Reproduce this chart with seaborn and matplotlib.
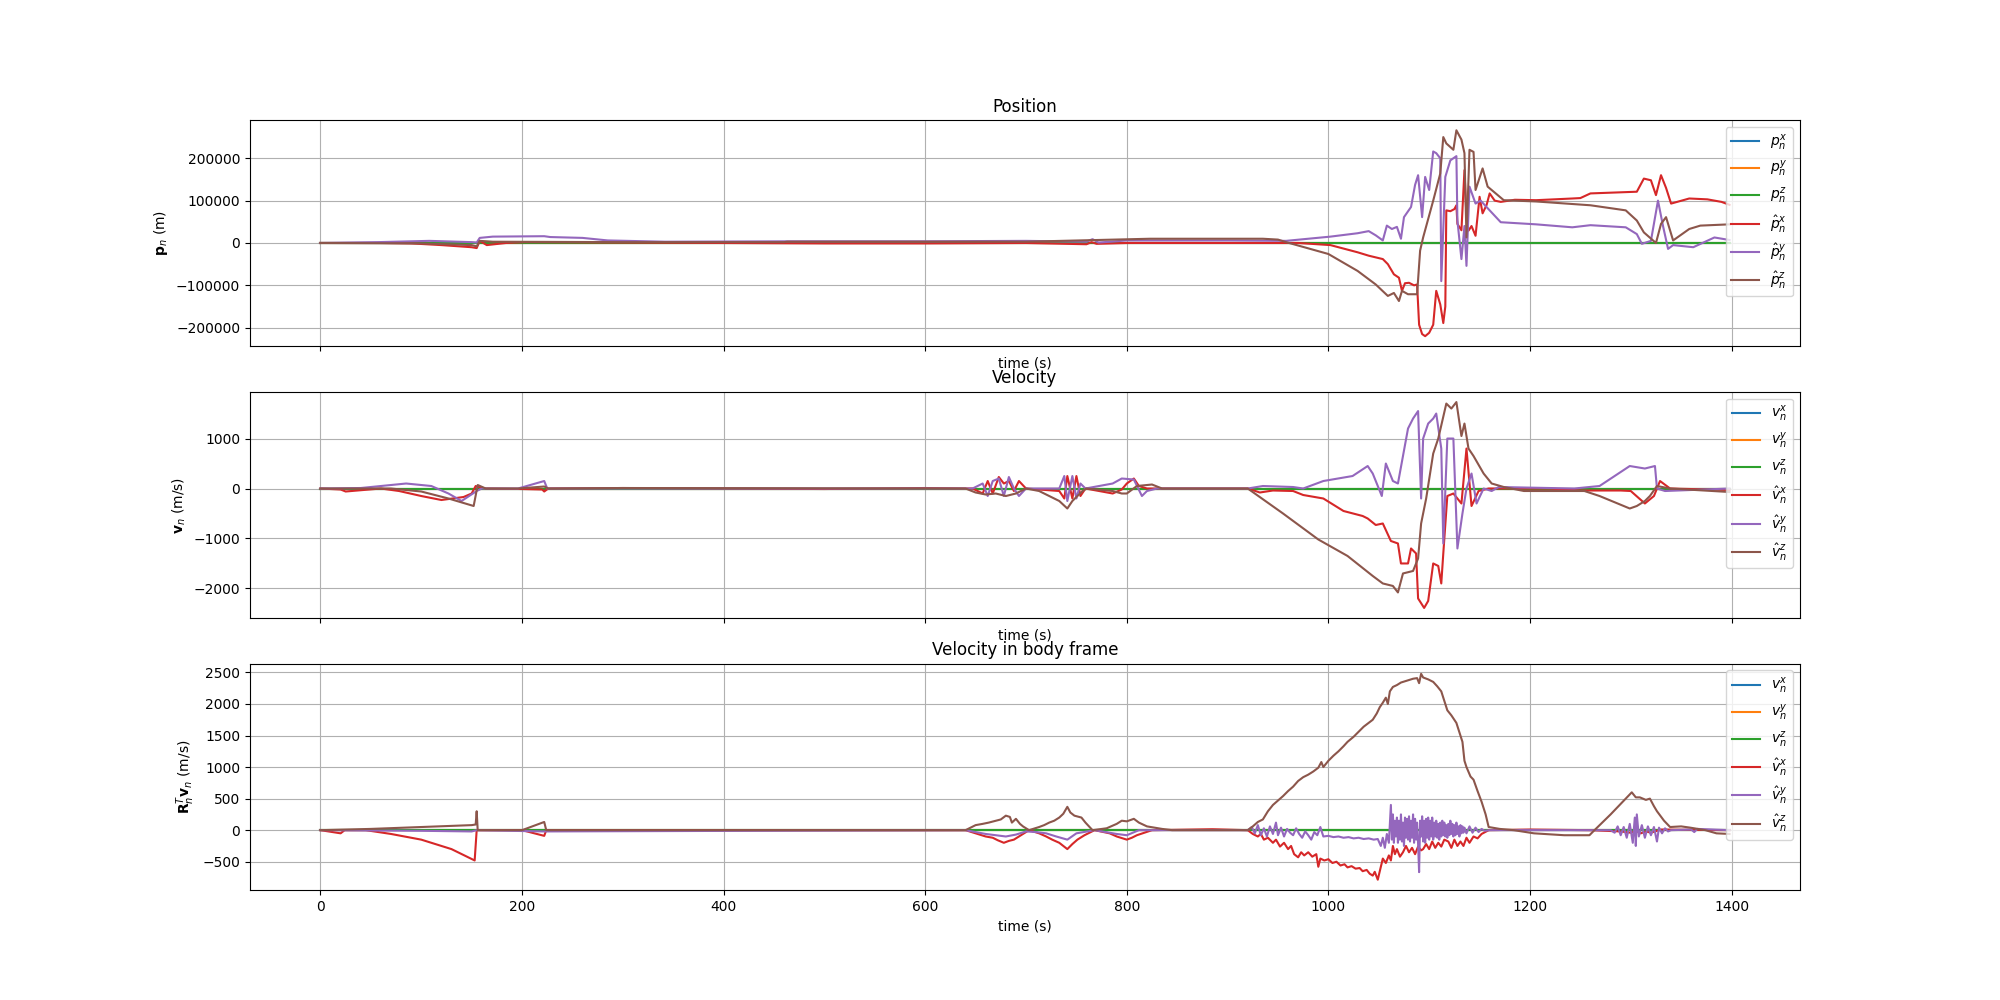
import matplotlib
matplotlib.use("Agg")
import matplotlib.pyplot as plt
import seaborn as sns

# true states: all zero over the run
truth_t = [0, 1398]
truth_zero = [0, 0]

### position estimates (m)
pos_t_x = [0, 60, 90, 120, 150, 155, 158, 165, 184, 203,
           300, 400, 500, 600, 700, 760, 765, 770, 800, 900,
           950, 970, 1002, 1029, 1040, 1054, 1059, 1065, 1070, 1073,
           1076, 1080, 1085, 1088, 1090, 1093, 1096, 1100, 1104, 1107,
           1111, 1114, 1116, 1117, 1121, 1125, 1127, 1128, 1132, 1135,
           1137, 1139, 1142, 1146, 1150, 1153, 1157, 1160, 1165, 1171,
           1185, 1206, 1242, 1250, 1260, 1306, 1313, 1320, 1325, 1330,
           1335, 1340, 1358, 1376, 1390, 1398]
pos_x_hat = [0, 0, -1000, -5000, -10000, -12000, 5000, -5000, 0, 2000,
             1000, 0, -1000, -1000, 0, -3000, 2000, -2000, 0, 0,
             0, 0, -5000, -22000, -30000, -38000, -50000, -74000, -82000, -113000,
             -95000, -94000, -100000, -98000, -193000, -215000, -220000, -212000, -193000, -113000,
             -145000, -189000, -150000, 77000, 75000, 80000, 89000, 45000, 30000, 172000,
             60000, 29000, 40000, 17000, 109000, 70000, 90000, 117000, 100000, 97000,
             102000, 101000, 105000, 106000, 117000, 121000, 152000, 148000, 113000, 160000,
             130000, 93000, 105000, 103000, 97000, 90000]

pos_t_y = [0, 57, 108, 150, 155, 158, 171, 222, 228, 260,
           285, 342, 468, 600, 700, 760, 766, 772, 800, 900,
           958, 1002, 1029, 1040, 1047, 1054, 1058, 1063, 1068, 1072,
           1075, 1082, 1086, 1089, 1093, 1096, 1100, 1104, 1107, 1111,
           1112, 1116, 1121, 1127, 1128, 1132, 1135, 1137, 1140, 1146,
           1151, 1160, 1171, 1206, 1242, 1260, 1295, 1306, 1311, 1320,
           1327, 1332, 1337, 1342, 1362, 1383, 1398]
pos_y_hat = [0, 2000, 5000, 2000, 1000, 12000, 15000, 16000, 14000, 12000,
             6000, 3000, 4000, 4000, 5000, 3000, 9000, 1000, 6000, 6000,
             5000, 15000, 23000, 28000, 18000, 6000, 41000, 33000, 38000, 10000,
             61000, 85000, 137000, 160000, 61000, 156000, 125000, 216000, 212000, 200000,
             -90000, 156000, 195000, 205000, 53000, -38000, 40000, -54000, 133000, 93000,
             100000, 77000, 49000, 44000, 37000, 42000, 37000, 21000, -2000, 5000,
             100000, 40000, -14000, -5000, -10000, 13000, 7000]

pos_t_z = [0, 100, 150, 155, 158, 171, 300, 460, 463, 700,
           823, 900, 935, 950, 958, 1000, 1029, 1047, 1059, 1065,
           1070, 1073, 1079, 1088, 1091, 1094, 1104, 1111, 1114, 1117,
           1124, 1127, 1132, 1135, 1137, 1140, 1144, 1146, 1153, 1158,
           1164, 1174, 1206, 1260, 1295, 1306, 1313, 1325, 1330, 1335,
           1342, 1358, 1369, 1398]
pos_z_hat = [0, -1000, -5000, -8000, 5000, 3000, 2000, 2000, 3000, 3000,
             10000, 10000, 10000, 8000, 2000, -26000, -66000, -98000, -125000, -118000,
             -137000, -113000, -121000, -121000, -18000, 13000, 100000, 164000, 250000, 235000,
             220000, 266000, 244000, 212000, 13000, 220000, 215000, 125000, 176000, 133000,
             121000, 101000, 98000, 89000, 77000, 53000, 25000, 0, 45000, 61000,
             6000, 33000, 41000, 44000]

### velocity estimates (m/s)
vel_t_x = [0, 20, 25, 60, 78, 100, 120, 142, 150, 154,
           157, 164, 200, 220, 222, 226, 300, 400, 500, 600,
           640, 647, 657, 662, 667, 673, 678, 683, 688, 693,
           700, 733, 738, 741, 746, 750, 754, 759, 786, 795,
           800, 807, 812, 820, 860, 920, 932, 945, 965, 975,
           995, 1015, 1034, 1039, 1047, 1054, 1062, 1069, 1072, 1079,
           1082, 1087, 1089, 1095, 1099, 1104, 1109, 1112, 1114, 1118,
           1124, 1132, 1137, 1142, 1149, 1159, 1219, 1250, 1290, 1300,
           1314, 1323, 1329, 1339, 1398]
vel_x_hat = [0, -20, -60, 0, -50, -150, -230, -170, -100, 50,
             30, 0, -10, -20, -60, 0, 10, 0, -10, 10,
             0, 0, -100, 150, -100, 230, 100, 150, -50, 150,
             0, -50, -200, 250, -200, 250, -150, 0, -100, -20,
             100, 200, 50, 0, 0, 0, -80, -40, -50, -130,
             -200, -450, -550, -600, -730, -700, -1050, -1100, -1500, -1500,
             -1200, -1300, -2200, -2390, -2250, -1500, -1550, -1900, -1300, -150,
             -100, -300, 800, -350, -50, 0, 0, -40, -40, -50,
             -300, -150, 150, 0, -30]

vel_t_y = [0, 40, 85, 110, 127, 140, 155, 160, 196, 222,
           225, 300, 500, 640, 647, 657, 662, 667, 673, 678,
           683, 688, 693, 700, 733, 738, 741, 746, 750, 754,
           759, 786, 795, 807, 815, 820, 830, 920, 935, 965,
           975, 995, 1024, 1039, 1044, 1053, 1057, 1064, 1069, 1079,
           1084, 1089, 1092, 1094, 1099, 1104, 1107, 1112, 1114, 1118,
           1124, 1128, 1133, 1137, 1142, 1147, 1154, 1162, 1169, 1244,
           1269, 1299, 1314, 1324, 1326, 1334, 1398]
vel_y_hat = [0, 10, 100, 50, -100, -250, -50, 0, 0, 150,
             0, 0, 0, 0, 0, 100, -150, 150, 200, -150,
             230, 0, -150, 0, 0, 250, -250, 250, -200, 100,
             0, 100, 200, 180, -150, -50, 0, 0, 50, 30,
             0, 150, 250, 450, 300, -150, 500, 150, 100, 1200,
             1400, 1550, -200, 1000, 1300, 1400, 1500, 800, -1100, 1000,
             1000, -1200, -500, 0, 300, -300, 0, -50, 30, 0,
             50, 450, 400, 450, 0, -50, 0]

vel_t_z = [0, 70, 100, 127, 152, 156, 164, 196, 222, 226,
           300, 640, 650, 660, 670, 680, 690, 700, 713, 733,
           741, 746, 756, 760, 786, 795, 800, 810, 825, 835,
           920, 955, 990, 1019, 1044, 1054, 1064, 1069, 1074, 1084,
           1089, 1092, 1097, 1104, 1109, 1117, 1122, 1127, 1132, 1135,
           1139, 1144, 1154, 1162, 1174, 1194, 1254, 1269, 1299, 1306,
           1314, 1319, 1326, 1339, 1398]
vel_z_hat = [0, 0, -60, -200, -350, 70, 0, 0, 40, 0,
             10, 0, -80, -120, -100, -150, -100, 0, -50, -250,
             -400, -250, -50, 0, -50, -100, -100, 50, 80, 0,
             0, -500, -1020, -1350, -1750, -1900, -1950, -2080, -1700, -1650,
             -1400, -700, -200, 700, 1000, 1700, 1600, 1730, 1050, 1300,
             800, 650, 300, 100, 30, -50, -50, -150, -400, -350,
             -250, -150, 50, 0, -70]

### velocity in body frame (m/s)
body_t_x = [0, 20, 24, 45, 70, 100, 130, 153, 155, 200,
            222, 224, 640, 650, 660, 667, 672, 678, 683, 688,
            693, 698, 703, 713, 720, 726, 733, 737, 741, 746,
            751, 758, 768, 783, 790, 800, 805, 810, 825, 885,
            920, 925, 930, 933, 936, 940, 945, 948, 952, 956,
            960, 963, 966, 970, 973, 976, 980, 984, 988, 990,
            992, 996, 1000, 1004, 1008, 1012, 1016, 1019, 1023, 1027,
            1031, 1034, 1038, 1041, 1044, 1046, 1049, 1051, 1054, 1057,
            1060, 1062, 1064, 1066, 1068, 1071, 1074, 1077, 1080, 1083,
            1086, 1089, 1092, 1094, 1097, 1100, 1103, 1106, 1109, 1112,
            1115, 1119, 1122, 1125, 1128, 1131, 1134, 1137, 1140, 1144,
            1148, 1152, 1159, 1200, 1260, 1290, 1300, 1305, 1310, 1315,
            1320, 1330, 1398]
body_x_hat = [0, -50, 0, 0, -60, -150, -300, -480, 0, 0,
              -90, 0, 0, -50, -100, -120, -160, -200, -170, -150,
              -100, -50, 0, -50, -100, -150, -200, -250, -300, -220,
              -150, -80, 0, -50, -100, -150, -120, -80, 0, 15,
              0, -60, -100, -60, -150, -120, -200, -150, -260, -200,
              -300, -250, -380, -430, -350, -400, -350, -420, -380, -580,
              -450, -480, -460, -520, -500, -560, -540, -590, -570, -610,
              -600, -650, -630, -690, -720, -660, -785, -650, -450, -520,
              -400, -480, -250, -380, -300, -420, -350, -250, -350, -280,
              -380, -260, -320, -300, -220, -300, -180, -280, -200, -260,
              -150, -180, -280, -150, -250, -180, -250, -120, -200, -100,
              -130, -60, 0, 10, 0, -20, -40, -10, -50, -20,
              -40, 10, 0]

body_t_y = [0, 100, 150, 155, 222, 640, 650, 660, 670, 680,
            690, 700, 710, 720, 730, 741, 750, 768, 790, 800,
            812, 920, 924, 927, 930, 933, 936, 939, 942, 945,
            948, 950, 953, 956, 959, 962, 965, 968, 971, 974,
            977, 980, 983, 986, 989, 992, 995, 1000, 1005, 1010,
            1015, 1020, 1025, 1030, 1035, 1040, 1045, 1049, 1052, 1054,
            1056, 1058, 1060,
            1062, 1063, 1064, 1065, 1066, 1067, 1068, 1069, 1070, 1071,
            1072, 1073, 1074, 1075, 1076, 1077, 1078, 1079, 1080, 1081,
            1082, 1083, 1084, 1085, 1086, 1087, 1088, 1089, 1090, 1091,
            1092, 1093, 1094, 1095, 1096, 1097, 1098, 1099, 1100, 1101,
            1102, 1103, 1104, 1105, 1106, 1107, 1108, 1109, 1110, 1111,
            1112, 1113, 1114, 1115, 1116, 1117, 1118, 1119, 1120, 1121,
            1122, 1123, 1124, 1125, 1126, 1127, 1128, 1129, 1130, 1131,
            1132, 1133, 1134,
            1135, 1137, 1140, 1143, 1146, 1149, 1152, 1155, 1160, 1280,
            1284, 1287, 1290, 1293, 1296, 1299, 1302, 1304, 1305, 1306,
            1308, 1311, 1314, 1317, 1320, 1323, 1326, 1328, 1331, 1334,
            1337, 1340, 1360, 1363, 1366, 1398]
body_y_hat = [0, -10, -20, 0, -20, 0, -30, -60, -80, -100,
              -70, -20, -30, -50, -100, -150, -50, 0, -60, -80,
              0, 0, 50, -50, 80, -80, 30, -100, 60, -60,
              120, -80, 40, -100, 20, -40, -80, 30, -60, -120,
              -20, -80, -150, -30, -80, 50, -100, -90, -110, -100,
              -120, -110, -130, -120, -140, -130, -150, -140, -250, -120,
              -280, -60, -200,
              400, -150, 250, -200, 150, -100, 200, -200, 150, -150,
              250, -180, 120, -250, 200, -120, 180, -150, 220, -180,
              150, -120, 250, -200, 180, -150, 120, -220, -665, 150,
              -100, 220, -180, 150, -200, 180, -120, 200, -150, 150,
              -100, 200, -150, 120, -100, 150, -120, 100, -150, 120,
              -100, 150, -80, 120, -100, 80, -120, 100, -80, 150,
              -60, 100, -100, 80, -80, 120, -60, 60, -100, 80,
              -50, 60, -40,
              40, -50, 60, -40, 40, -30, 20, -10, 0, 0,
              -40, 60, -80, 50, -120, 100, -200, 200, -250, 250,
              -100, 80, -120, 60, -80, 50, -180, 40, -50, 30,
              -20, 0, 10, -30, 20, 0]

body_t_z = [0, 50, 100, 150, 154, 155, 156, 158, 200, 222,
            224, 640, 650, 657, 663, 670, 675, 680, 684, 686,
            690, 694, 697, 703, 713, 718, 723, 728, 733, 737,
            741, 744, 748, 755, 759, 766, 780, 790, 795, 800,
            807, 812, 820, 835, 845, 920, 925, 930, 935, 940,
            945, 950, 955, 960, 965, 970, 975, 980, 985, 990,
            993, 995, 1000, 1005, 1010, 1015, 1019, 1025, 1030, 1035,
            1040, 1044, 1048, 1051, 1054, 1057, 1059, 1061, 1064, 1068,
            1072, 1076, 1080, 1084, 1088, 1090, 1092, 1094, 1099, 1104,
            1108, 1112, 1115, 1118, 1122, 1127, 1130, 1133, 1135, 1137,
            1141, 1144, 1148, 1152, 1156, 1159, 1170, 1184, 1204, 1234,
            1259, 1264, 1280, 1295, 1301, 1305, 1309, 1315, 1319, 1323,
            1326, 1333, 1339, 1350, 1359, 1374, 1385, 1398]
body_z_hat = [0, 20, 50, 80, 90, 300, 0, 0, 0, 130,
              0, 0, 80, 100, 120, 150, 170, 230, 210, 120,
              180, 100, 60, 0, 50, 80, 120, 150, 200, 260,
              370, 280, 230, 200, 120, 0, 30, 100, 150, 140,
              180, 120, 60, 20, 0, 0, 60, 130, 170, 300,
              400, 470, 540, 620, 690, 780, 840, 880, 930, 990,
              1080, 1000, 1100, 1180, 1250, 1330, 1400, 1480, 1560, 1640,
              1700, 1750, 1850, 1950, 2020, 2100, 2000, 2200, 2270, 2300,
              2340, 2360, 2380, 2400, 2410, 2330, 2478, 2420, 2390, 2350,
              2280, 2200, 2050, 1900, 1820, 1700, 1550, 1400, 1100, 1000,
              850, 800, 620, 450, 250, 50, 20, 0, -50, -80,
              -80, 0, 250, 500, 600, 520, 520, 480, 500, 380,
              300, 150, 50, 60, 40, 0, -50, -60]

colors = sns.color_palette("tab10", 6)

panels = [
    ("Position", r"$\mathbf{p}_n$ (m)", "p",
     [(pos_t_x, pos_x_hat), (pos_t_y, pos_y_hat), (pos_t_z, pos_z_hat)]),
    ("Velocity", r"$\mathbf{v}_n$ (m/s)", "v",
     [(vel_t_x, vel_x_hat), (vel_t_y, vel_y_hat), (vel_t_z, vel_z_hat)]),
    ("Velocity in body frame", r"$\mathbf{R}_n^T\mathbf{v}_n$ (m/s)", "v",
     [(body_t_x, body_x_hat), (body_t_y, body_y_hat), (body_t_z, body_z_hat)]),
]

fig, axes = plt.subplots(3, 1, figsize=(20, 10), sharex=True)

for ax, (title, ylab, sym, est) in zip(axes, panels):
    for i, comp in enumerate("xyz"):
        sns.lineplot(x=truth_t, y=truth_zero, ax=ax, color=colors[i],
                     label=rf"${sym}_n^{comp}$", estimator=None, sort=False)
    for i, comp in enumerate("xyz"):
        t, v = est[i]
        sns.lineplot(x=t, y=v, ax=ax, color=colors[3 + i],
                     label=rf"$\hat{{{sym}}}_n^{comp}$", estimator=None, sort=False)
    ax.set_title(title)
    ax.set_ylabel(ylab)
    ax.set_xlabel("time (s)")
    ax.xaxis.label.set_visible(True)
    ax.grid(True)
    ax.legend(loc="upper right")

plt.savefig("out.png", dpi=100)
